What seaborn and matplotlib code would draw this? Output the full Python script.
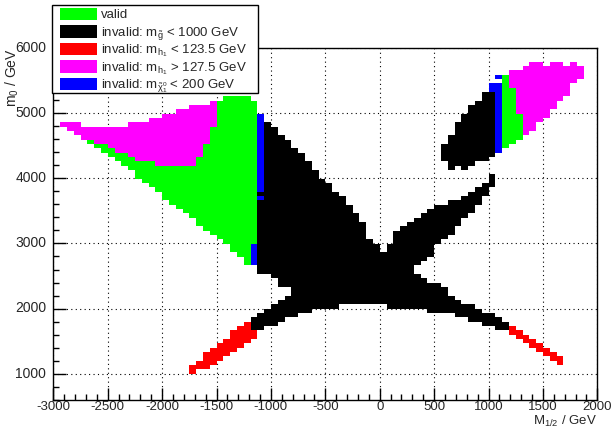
import numpy as np
import matplotlib
matplotlib.use("Agg")
import matplotlib.pyplot as plt
from matplotlib.colors import ListedColormap
from matplotlib.patches import Rectangle
from matplotlib.path import Path
import seaborn as sns

# scan binning (80 x 81 bins)
m12_edges = np.linspace(-3000, 2000, 81)
m0_edges = np.linspace(600, 6000, 82)

labels = [
    "valid",
    r"invalid: $m_{\tilde{g}}$ < 1000 GeV",
    r"invalid: $m_{h_1}$ < 123.5 GeV",
    r"invalid: $m_{h_1}$ > 127.5 GeV",
    r"invalid: $m_{\tilde{\chi}^0_1}$ < 200 GeV",
]
colors = ["#00ff00", "#000000", "#ff0000", "#ff00ff", "#0000ff"]

# region outlines in the (M1/2, m0) plane
valid_left = [(-2937.5, 4867), (-2750, 4867), (-2750, 4800), (-2312.5, 4800), (-2312.5, 4867),
              (-2125, 4867), (-2125, 4933), (-2000, 4933), (-2000, 5000), (-1875, 5000),
              (-1875, 5067), (-1750, 5067), (-1750, 5133), (-1562.5, 5133), (-1562.5, 5200),
              (-1437.5, 5200), (-1437.5, 5267), (-1187.5, 5267), (-1187.5, 5200), (-1125, 5200),
              (-1125, 2667), (-1187.5, 2667), (-1246, 2716), (-1307, 2844), (-1368, 2921),
              (-1435, 3049), (-1497, 3110), (-1628, 3254), (-1751, 3454), (-1873, 3587),
              (-1996, 3715), (-2057, 3854), (-2122, 3854), (-2312, 4192), (-2685, 4597),
              (-2937.5, 4800)]
mh_high_left = [(-2937.5, 4867), (-2750, 4867), (-2750, 4800), (-2312.5, 4800), (-2312.5, 4867),
                (-2125, 4867), (-2125, 4933), (-2000, 4933), (-2000, 5000), (-1875, 5000),
                (-1875, 5067), (-1750, 5067), (-1750, 5133), (-1562.5, 5133), (-1562.5, 5200),
                (-1500, 5200), (-1500, 4800), (-1562.5, 4800), (-1562.5, 4533), (-1625, 4533),
                (-1625, 4333), (-1687.5, 4333), (-1687.5, 4200), (-2062.5, 4200), (-2062.5, 4267),
                (-2250, 4267), (-2250, 4333), (-2312.5, 4333), (-2312.5, 4400), (-2437.5, 4400),
                (-2437.5, 4467), (-2500, 4467), (-2500, 4533), (-2625, 4533), (-2625, 4600),
                (-2750, 4600), (-2750, 4667), (-2812.5, 4667), (-2812.5, 4733), (-2875, 4733),
                (-2875, 4800), (-2937.5, 4800)]
mh_low_left = [(-1750, 940), (-1750, 1110), (-1187.5, 1850), (-1125, 1650), (-1125, 1570)]
mh_low_right = [(1187.5, 1740), (1187.5, 1600), (1687.5, 1080), (1687.5, 1240)]
gluino_x = [(-1125, 5000), (-1062.5, 5000), (-1062.5, 4933), (-937.5, 4740), (-800, 4533),
            (-675, 4300), (-550, 4060), (-425, 3860), (-300, 3620), (-187.5, 3380),
            (-125, 3267), (-125, 3067), (-62.5, 3067), (-62.5, 3000), (0, 3000), (0, 2867),
            (62.5, 2867), (62.5, 3000), (125, 3000), (125, 3200), (187.5, 3233), (312.5, 3400),
            (437.5, 3467), (562.5, 3600), (687.5, 3667), (868, 3854), (1000, 4000),
            (1000, 4067), (1062.5, 4067), (1062.5, 3933), (929, 3650), (822, 3460),
            (700, 3210), (577, 3050), (500, 3000), (500, 2800), (437.5, 2800), (437.5, 2733),
            (375, 2733), (375, 2667), (312.5, 2667), (312.5, 2533), (375, 2533), (375, 2467),
            (437.5, 2467), (437.5, 2400), (500, 2400), (580, 2330), (684, 2180), (800, 2067),
            (883, 2033), (1006, 1933), (1067, 1867), (1128, 1800), (1187.5, 1800),
            (1187.5, 1667), (1062.5, 1667), (1062.5, 1733), (937.5, 1733), (937.5, 1800),
            (812.5, 1800), (812.5, 1867), (687.5, 1867), (687.5, 1933), (500, 1933),
            (375, 2000), (62.5, 2000), (62.5, 2067), (-375, 2067), (-375, 2000), (-500, 2000),
            (-618, 1967), (-740, 1900), (-863, 1833), (-933, 1767), (-1056, 1700),
            (-1187.5, 1667), (-1187.5, 1867), (-1125, 1933), (-1062.5, 1967), (-1000, 2033),
            (-937.5, 2100), (-875, 2167), (-812.5, 2200), (-812.5, 2333), (-875, 2333),
            (-937.5, 2400), (-1000, 2467), (-1062.5, 2533), (-1125, 2600)]
gluino_blob = [(937.5, 5333), (1062.5, 5333), (1062.5, 4333), (1000, 4333), (1000, 4267),
               (875, 4267), (875, 4200), (812.5, 4200), (812.5, 4133), (750, 4133), (750, 4200),
               (687.5, 4200), (687.5, 4133), (625, 4133), (625, 4267), (562.5, 4267),
               (562.5, 4533), (625, 4533), (625, 4667), (687.5, 4667), (687.5, 4867),
               (750, 4867), (750, 5000), (812.5, 5000), (812.5, 5133), (875, 5133), (875, 5200),
               (937.5, 5200)]
chi_left_a = [(-1125, 3800), (-1062.5, 3800), (-1062.5, 5000), (-1125, 5000)]
chi_left_b = [(-1125, 3667), (-1062.5, 3667), (-1062.5, 3733), (-1125, 3733)]
chi_left_c = [(-1187.5, 2667), (-1125, 2667), (-1125, 3000), (-1187.5, 3000)]
chi_right_a = [(1000, 5467), (1125, 5467), (1125, 4400), (1062.5, 4400), (1062.5, 5333), (1000, 5333)]
chi_right_b = [(1062.5, 5533), (1125, 5533), (1125, 5600), (1062.5, 5600)]
valid_right = [(1125, 5600), (1187.5, 5600), (1187.5, 5400), (1250, 5400), (1250, 5000),
               (1312.5, 5000), (1312.5, 4600), (1250, 4600), (1250, 4533), (1187.5, 4533),
               (1187.5, 4467), (1125, 4467)]
mh_high_right = [(1187.5, 5667), (1312.5, 5667), (1312.5, 5733), (1375, 5733), (1375, 5800),
                 (1500, 5800), (1500, 5733), (1562.5, 5733), (1562.5, 5800), (1687.5, 5800),
                 (1687.5, 5733), (1750, 5733), (1750, 5800), (1812.5, 5800), (1812.5, 5733),
                 (1875, 5733), (1875, 5533), (1812.5, 5533), (1812.5, 5467), (1750, 5467),
                 (1750, 5267), (1687.5, 5267), (1687.5, 5200), (1625, 5200), (1625, 5067),
                 (1562.5, 5067), (1562.5, 4933), (1500, 4933), (1500, 4867), (1437.5, 4867),
                 (1437.5, 4733), (1375, 4733), (1375, 4667), (1312.5, 4667), (1312.5, 5000),
                 (1250, 5000), (1250, 5400), (1187.5, 5400)]

# drawing order: later regions overwrite earlier ones
regions = [
    (0, valid_left), (3, mh_high_left), (2, mh_low_left), (2, mh_low_right),
    (1, gluino_x), (1, gluino_blob),
    (4, chi_left_a), (4, chi_left_b), (4, chi_left_c), (4, chi_right_a), (4, chi_right_b),
    (0, valid_right), (3, mh_high_right),
]

# fill the scan grid
xc = 0.5 * (m12_edges[:-1] + m12_edges[1:])
yc = 0.5 * (m0_edges[:-1] + m0_edges[1:])
XX, YY = np.meshgrid(xc, yc)
pts = np.column_stack([XX.ravel(), YY.ravel()])
grid = np.full(XX.shape, np.nan)
for code, poly in regions:
    inside = Path(poly).contains_points(pts).reshape(XX.shape)
    grid[inside] = code

sns.set_style("ticks")
plt.rcParams["font.family"] = ["Liberation Sans", "DejaVu Sans"]
plt.rcParams["mathtext.fontset"] = "custom"
plt.rcParams["mathtext.rm"] = "Liberation Sans"
plt.rcParams["mathtext.it"] = "Liberation Sans:italic"
plt.rcParams["mathtext.default"] = "regular"

W, H = 613, 430
fig = plt.figure(figsize=(W / 100, H / 100), dpi=100)
ax = fig.add_axes([53.3 / W, 1 - 399.5 / H, 544 / W, 351 / H])

sns.heatmap(grid, mask=np.isnan(grid), cmap=ListedColormap(colors), vmin=-0.5, vmax=4.5,
            cbar=False, ax=ax)
ax.set_ylim(0, len(yc))
ax.set_xlim(0, len(xc))

dx = m12_edges[1] - m12_edges[0]
dy = m0_edges[1] - m0_edges[0]
xmaj = np.arange(-3000, 2001, 500)
ymaj = np.arange(1000, 6001, 1000)
ax.set_xticks((xmaj + 3000) / dx, [str(v) for v in xmaj])
ax.set_yticks((ymaj - 600) / dy, [str(v) for v in ymaj])
ax.set_xticks((np.arange(-3000, 2001, 100) + 3000) / dx, minor=True)
ax.set_yticks((np.arange(600, 6001, 200) - 600) / dy, minor=True)
ax.tick_params(which="both", direction="in", top=False, right=False, labelsize=10,
               color="black", width=1, labelrotation=0)
ax.tick_params(which="major", length=9)
ax.tick_params(which="minor", length=4.5)
ax.tick_params(axis="x", pad=1, labelsize=9.5)
ax.tick_params(axis="y", pad=5)

for sp in ax.spines.values():
    sp.set_visible(True)
    sp.set_color("black")
    sp.set_linewidth(1)

ax.set_axisbelow(True)
ax.grid(True, which="major", color="black", linestyle=(0, (1, 3)), linewidth=0.8)

ax.set_xlabel(r"$M_{1/2}$ / GeV", fontsize=9.5, loc="right")
ax.xaxis.set_label_coords(1.0, -0.0415)
ax.set_ylabel(r"$m_0$ / GeV", fontsize=10, loc="top")
ax.yaxis.set_label_coords(-0.06, 1.0)

# legend box sitting over the top-left corner of the frame (pixel layout)
def fx(px):
    return px / W

def fy(py):
    return 1 - py / H

fig.patches.append(Rectangle((fx(52), fy(93)), fx(258) - fx(52), fy(5) - fy(93),
                             transform=fig.transFigure, facecolor="white",
                             edgecolor="black", linewidth=1, zorder=10))
row_y = [14, 31.5, 49, 66.5, 84]
for lab, col, yy in zip(labels, colors, row_y):
    fig.patches.append(Rectangle((fx(60), fy(yy + 6)), fx(97) - fx(60), fy(yy - 6) - fy(yy + 6),
                                 transform=fig.transFigure, facecolor=col, edgecolor=col,
                                 linewidth=0, zorder=11))
    fig.text(fx(101), fy(yy + 4.5), lab, fontsize=9.5, va="baseline", ha="left", zorder=12)

fig.savefig("out.png", dpi=100)
